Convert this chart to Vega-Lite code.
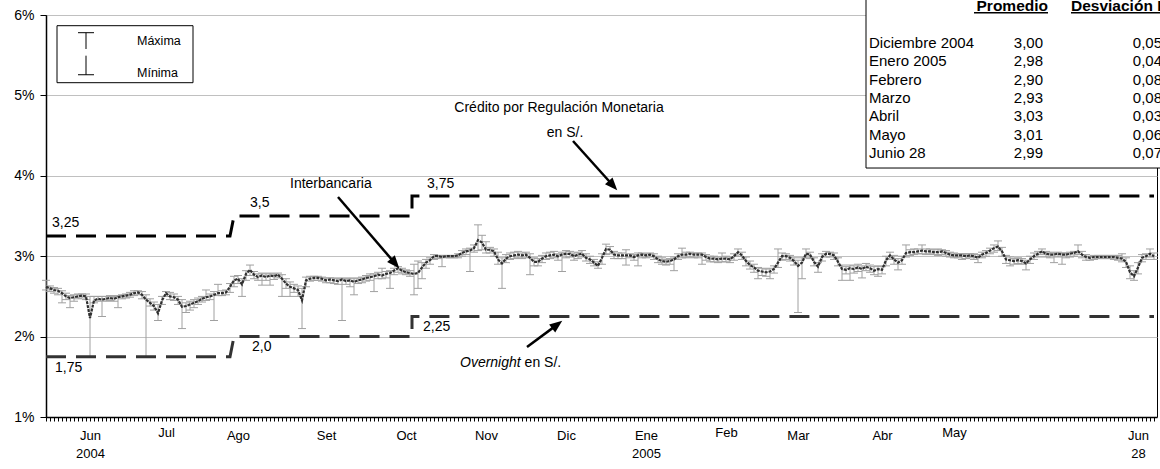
{
"$schema":"https://vega.github.io/schema/vega-lite/v6.json",
"autosize":"none","width":1111,"height":402,
"padding":{"left":46,"top":15,"right":3,"bottom":52},
"background":"white",
"config":{"font":"Liberation Sans","view":{"stroke":"#000","strokeWidth":1},"text":{"font":"Liberation Sans","color":"#000"}},
"datasets":{
"ib":[
{"i":0,"v":2.62,"h":2.70,"l":2.58},{"i":1,"v":2.60,"h":2.63,"l":2.56},{"i":2,"v":2.58,"h":2.61,"l":2.54},{"i":3,"v":2.57,"h":2.60,"l":2.52},{"i":4,"v":2.54,"h":2.57,"l":2.42},{"i":5,"v":2.50,"h":2.54,"l":2.46},{"i":6,"v":2.48,"h":2.51,"l":2.36},{"i":7,"v":2.49,"h":2.52,"l":2.44},{"i":8,"v":2.50,"h":2.53,"l":2.47},{"i":9,"v":2.51,"h":2.53,"l":2.48},
{"i":10,"v":2.50,"h":2.53,"l":2.46},{"i":11,"v":2.23,"h":2.50,"l":1.75},{"i":12,"v":2.45,"h":2.50,"l":2.42},{"i":13,"v":2.47,"h":2.50,"l":2.44},{"i":14,"v":2.46,"h":2.50,"l":2.25},{"i":15,"v":2.47,"h":2.50,"l":2.44},{"i":16,"v":2.48,"h":2.51,"l":2.45},{"i":17,"v":2.47,"h":2.50,"l":2.44},{"i":18,"v":2.49,"h":2.51,"l":2.36},{"i":19,"v":2.50,"h":2.52,"l":2.47},
{"i":20,"v":2.51,"h":2.53,"l":2.48},{"i":21,"v":2.52,"h":2.55,"l":2.49},{"i":22,"v":2.54,"h":2.57,"l":2.51},{"i":23,"v":2.55,"h":2.57,"l":2.52},{"i":24,"v":2.52,"h":2.56,"l":2.47},{"i":25,"v":2.46,"h":2.52,"l":1.75},{"i":26,"v":2.42,"h":2.47,"l":2.38},{"i":27,"v":2.38,"h":2.43,"l":2.33},{"i":28,"v":2.29,"h":2.40,"l":2.20},{"i":29,"v":2.45,"h":2.50,"l":2.40},
{"i":30,"v":2.54,"h":2.56,"l":2.50},{"i":31,"v":2.50,"h":2.55,"l":2.46},{"i":32,"v":2.49,"h":2.53,"l":2.45},{"i":33,"v":2.46,"h":2.50,"l":2.40},{"i":34,"v":2.37,"h":2.46,"l":2.10},{"i":35,"v":2.38,"h":2.42,"l":2.30},{"i":36,"v":2.40,"h":2.44,"l":2.33},{"i":37,"v":2.42,"h":2.46,"l":2.36},{"i":38,"v":2.44,"h":2.48,"l":2.40},{"i":39,"v":2.47,"h":2.50,"l":2.43},
{"i":40,"v":2.49,"h":2.58,"l":2.45},{"i":41,"v":2.50,"h":2.53,"l":2.46},{"i":42,"v":2.52,"h":2.56,"l":2.20},{"i":43,"v":2.54,"h":2.65,"l":2.51},{"i":44,"v":2.54,"h":2.57,"l":2.51},{"i":45,"v":2.55,"h":2.58,"l":2.52},{"i":46,"v":2.62,"h":2.66,"l":2.55},{"i":47,"v":2.70,"h":2.75,"l":2.62},{"i":48,"v":2.72,"h":2.76,"l":2.66},{"i":49,"v":2.65,"h":2.72,"l":2.50},
{"i":50,"v":2.78,"h":2.82,"l":2.70},{"i":51,"v":2.83,"h":2.89,"l":2.76},{"i":52,"v":2.77,"h":2.81,"l":2.72},{"i":53,"v":2.74,"h":2.78,"l":2.70},{"i":54,"v":2.76,"h":2.79,"l":2.64},{"i":55,"v":2.74,"h":2.78,"l":2.70},{"i":56,"v":2.76,"h":2.79,"l":2.64},{"i":57,"v":2.75,"h":2.78,"l":2.71},{"i":58,"v":2.77,"h":2.79,"l":2.73},{"i":59,"v":2.72,"h":2.77,"l":2.50},
{"i":60,"v":2.66,"h":2.72,"l":2.60},{"i":61,"v":2.62,"h":2.68,"l":2.50},{"i":62,"v":2.60,"h":2.65,"l":2.55},{"i":63,"v":2.58,"h":2.63,"l":2.50},{"i":64,"v":2.45,"h":2.60,"l":2.10},{"i":65,"v":2.70,"h":2.74,"l":2.62},{"i":66,"v":2.72,"h":2.75,"l":2.69},{"i":67,"v":2.73,"h":2.75,"l":2.70},{"i":68,"v":2.73,"h":2.75,"l":2.70},{"i":69,"v":2.72,"h":2.74,"l":2.69},
{"i":70,"v":2.70,"h":2.73,"l":2.67},{"i":71,"v":2.71,"h":2.73,"l":2.67},{"i":72,"v":2.70,"h":2.73,"l":2.66},{"i":73,"v":2.69,"h":2.72,"l":2.65},{"i":74,"v":2.71,"h":2.73,"l":2.20},{"i":75,"v":2.69,"h":2.72,"l":2.65},{"i":76,"v":2.70,"h":2.73,"l":2.62},{"i":77,"v":2.68,"h":2.72,"l":2.52},{"i":78,"v":2.70,"h":2.73,"l":2.66},{"i":79,"v":2.71,"h":2.74,"l":2.67},
{"i":80,"v":2.73,"h":2.76,"l":2.69},{"i":81,"v":2.74,"h":2.78,"l":2.70},{"i":82,"v":2.75,"h":2.78,"l":2.56},{"i":83,"v":2.77,"h":2.80,"l":2.72},{"i":84,"v":2.76,"h":2.85,"l":2.72},{"i":85,"v":2.78,"h":2.81,"l":2.73},{"i":86,"v":2.79,"h":2.82,"l":2.60},{"i":87,"v":2.82,"h":2.85,"l":2.77},{"i":88,"v":2.85,"h":2.87,"l":2.80},{"i":89,"v":2.82,"h":2.85,"l":2.78},
{"i":90,"v":2.80,"h":2.83,"l":2.77},{"i":91,"v":2.79,"h":2.82,"l":2.75},{"i":92,"v":2.78,"h":2.90,"l":2.52},{"i":93,"v":2.79,"h":2.94,"l":2.60},{"i":94,"v":2.86,"h":2.92,"l":2.72},{"i":95,"v":2.92,"h":2.96,"l":2.85},{"i":96,"v":2.95,"h":2.98,"l":2.90},{"i":97,"v":3.00,"h":3.02,"l":2.96},{"i":98,"v":3.00,"h":3.01,"l":2.97},{"i":99,"v":2.99,"h":3.01,"l":2.87},
{"i":100,"v":3.00,"h":3.01,"l":2.98},{"i":101,"v":3.00,"h":3.01,"l":2.98},{"i":102,"v":3.00,"h":3.01,"l":2.98},{"i":103,"v":3.01,"h":3.03,"l":2.98},{"i":104,"v":3.04,"h":3.07,"l":3.00},{"i":105,"v":3.06,"h":3.09,"l":3.02},{"i":106,"v":3.07,"h":3.10,"l":2.81},{"i":107,"v":3.10,"h":3.14,"l":3.05},{"i":108,"v":3.20,"h":3.39,"l":3.07},{"i":109,"v":3.17,"h":3.26,"l":3.08},
{"i":110,"v":3.08,"h":3.18,"l":3.04},{"i":111,"v":3.08,"h":3.11,"l":3.04},{"i":112,"v":3.06,"h":3.09,"l":3.00},{"i":113,"v":2.96,"h":3.05,"l":2.90},{"i":114,"v":2.91,"h":2.98,"l":2.60},{"i":115,"v":2.97,"h":3.02,"l":2.92},{"i":116,"v":3.00,"h":3.04,"l":2.96},{"i":117,"v":3.01,"h":3.05,"l":2.97},{"i":118,"v":3.02,"h":3.06,"l":2.98},{"i":119,"v":3.01,"h":3.04,"l":2.97},
{"i":120,"v":3.02,"h":3.05,"l":2.98},{"i":121,"v":2.98,"h":3.03,"l":2.77},{"i":122,"v":2.93,"h":2.98,"l":2.88},{"i":123,"v":2.93,"h":2.97,"l":2.88},{"i":124,"v":2.97,"h":3.01,"l":2.92},{"i":125,"v":3.00,"h":3.04,"l":2.96},{"i":126,"v":3.01,"h":3.05,"l":2.97},{"i":127,"v":3.02,"h":3.06,"l":2.98},{"i":128,"v":3.00,"h":3.03,"l":2.95},{"i":129,"v":3.02,"h":3.05,"l":2.81},
{"i":130,"v":3.03,"h":3.07,"l":2.98},{"i":131,"v":3.03,"h":3.06,"l":2.99},{"i":132,"v":3.00,"h":3.04,"l":2.95},{"i":133,"v":3.02,"h":3.05,"l":2.97},{"i":134,"v":3.03,"h":3.07,"l":2.99},{"i":135,"v":2.98,"h":3.03,"l":2.94},{"i":136,"v":2.96,"h":3.00,"l":2.91},{"i":137,"v":2.92,"h":2.96,"l":2.88},{"i":138,"v":2.88,"h":2.93,"l":2.85},{"i":139,"v":2.98,"h":3.03,"l":2.90},
{"i":140,"v":3.09,"h":3.15,"l":3.02},{"i":141,"v":3.08,"h":3.12,"l":3.03},{"i":142,"v":3.02,"h":3.06,"l":2.97},{"i":143,"v":3.01,"h":3.04,"l":2.97},{"i":144,"v":3.01,"h":3.04,"l":2.97},{"i":145,"v":3.01,"h":3.08,"l":2.89},{"i":146,"v":3.01,"h":3.03,"l":2.98},{"i":147,"v":2.99,"h":3.02,"l":2.95},{"i":148,"v":3.01,"h":3.04,"l":2.88},{"i":149,"v":3.02,"h":3.04,"l":2.98},
{"i":150,"v":3.01,"h":3.03,"l":2.98},{"i":151,"v":3.02,"h":3.04,"l":2.99},{"i":152,"v":3.00,"h":3.03,"l":2.96},{"i":153,"v":2.96,"h":3.00,"l":2.92},{"i":154,"v":2.94,"h":2.98,"l":2.90},{"i":155,"v":2.93,"h":2.96,"l":2.89},{"i":156,"v":2.94,"h":2.97,"l":2.90},{"i":157,"v":2.96,"h":2.99,"l":2.82},{"i":158,"v":3.00,"h":3.03,"l":2.96},{"i":159,"v":3.02,"h":3.10,"l":2.98},
{"i":160,"v":3.02,"h":3.05,"l":2.98},{"i":161,"v":3.03,"h":3.05,"l":2.99},{"i":162,"v":3.02,"h":3.04,"l":2.98},{"i":163,"v":3.02,"h":3.04,"l":2.98},{"i":164,"v":3.02,"h":3.04,"l":2.90},{"i":165,"v":2.99,"h":3.02,"l":2.95},{"i":166,"v":2.97,"h":3.00,"l":2.93},{"i":167,"v":2.97,"h":3.00,"l":2.93},{"i":168,"v":2.96,"h":2.99,"l":2.92},{"i":169,"v":2.97,"h":3.04,"l":2.93},
{"i":170,"v":2.97,"h":3.00,"l":2.93},{"i":171,"v":2.96,"h":2.99,"l":2.92},{"i":172,"v":3.00,"h":3.03,"l":2.95},{"i":173,"v":3.05,"h":3.09,"l":3.00},{"i":174,"v":3.01,"h":3.05,"l":2.96},{"i":175,"v":2.94,"h":2.99,"l":2.88},{"i":176,"v":2.89,"h":2.94,"l":2.84},{"i":177,"v":2.86,"h":2.90,"l":2.80},{"i":178,"v":2.82,"h":2.86,"l":2.72},{"i":179,"v":2.81,"h":2.85,"l":2.76},
{"i":180,"v":2.80,"h":2.84,"l":2.75},{"i":181,"v":2.81,"h":2.85,"l":2.72},{"i":182,"v":2.84,"h":2.88,"l":2.79},{"i":183,"v":2.92,"h":3.09,"l":2.86},{"i":184,"v":3.00,"h":3.04,"l":2.95},{"i":185,"v":3.00,"h":3.03,"l":2.96},{"i":186,"v":2.98,"h":3.01,"l":2.94},{"i":187,"v":2.94,"h":2.98,"l":2.89},{"i":188,"v":2.88,"h":2.95,"l":2.30},{"i":189,"v":2.92,"h":2.98,"l":2.72},
{"i":190,"v":3.03,"h":3.09,"l":2.98},{"i":191,"v":3.02,"h":3.05,"l":2.97},{"i":192,"v":2.93,"h":2.98,"l":2.88},{"i":193,"v":2.87,"h":2.92,"l":2.80},{"i":194,"v":2.99,"h":3.03,"l":2.94},{"i":195,"v":3.03,"h":3.06,"l":2.99},{"i":196,"v":3.03,"h":3.05,"l":2.99},{"i":197,"v":3.01,"h":3.04,"l":2.96},{"i":198,"v":2.93,"h":2.98,"l":2.88},{"i":199,"v":2.84,"h":2.89,"l":2.70},
{"i":200,"v":2.83,"h":2.87,"l":2.78},{"i":201,"v":2.85,"h":2.89,"l":2.70},{"i":202,"v":2.84,"h":2.88,"l":2.79},{"i":203,"v":2.86,"h":2.90,"l":2.81},{"i":204,"v":2.84,"h":2.88,"l":2.73},{"i":205,"v":2.87,"h":2.91,"l":2.82},{"i":206,"v":2.85,"h":2.89,"l":2.80},{"i":207,"v":2.82,"h":2.87,"l":2.77},{"i":208,"v":2.84,"h":2.88,"l":2.75},{"i":209,"v":2.83,"h":2.87,"l":2.78},
{"i":210,"v":2.95,"h":3.00,"l":2.88},{"i":211,"v":3.01,"h":3.05,"l":2.96},{"i":212,"v":2.96,"h":3.01,"l":2.90},{"i":213,"v":2.92,"h":2.97,"l":2.83},{"i":214,"v":2.95,"h":3.00,"l":2.90},{"i":215,"v":3.04,"h":3.14,"l":2.99},{"i":216,"v":3.05,"h":3.08,"l":3.01},{"i":217,"v":3.05,"h":3.09,"l":3.02},{"i":218,"v":3.06,"h":3.09,"l":3.03},{"i":219,"v":3.07,"h":3.14,"l":3.03},
{"i":220,"v":3.06,"h":3.09,"l":3.02},{"i":221,"v":3.06,"h":3.09,"l":3.03},{"i":222,"v":3.05,"h":3.08,"l":3.02},{"i":223,"v":3.05,"h":3.09,"l":3.01},{"i":224,"v":3.06,"h":3.08,"l":3.02},{"i":225,"v":3.04,"h":3.07,"l":3.00},{"i":226,"v":3.02,"h":3.05,"l":2.99},{"i":227,"v":3.01,"h":3.04,"l":2.98},{"i":228,"v":3.01,"h":3.03,"l":2.98},{"i":229,"v":3.01,"h":3.03,"l":2.96},
{"i":230,"v":3.00,"h":3.03,"l":2.97},{"i":231,"v":3.01,"h":3.03,"l":2.98},{"i":232,"v":3.00,"h":3.03,"l":2.96},{"i":233,"v":2.98,"h":3.02,"l":2.92},{"i":234,"v":3.02,"h":3.05,"l":2.98},{"i":235,"v":3.04,"h":3.07,"l":3.00},{"i":236,"v":3.07,"h":3.10,"l":3.03},{"i":237,"v":3.10,"h":3.14,"l":3.05},{"i":238,"v":3.12,"h":3.19,"l":3.07},{"i":239,"v":3.06,"h":3.11,"l":3.00},
{"i":240,"v":2.96,"h":3.01,"l":2.91},{"i":241,"v":2.95,"h":2.99,"l":2.88},{"i":242,"v":2.94,"h":2.97,"l":2.90},{"i":243,"v":2.95,"h":2.98,"l":2.91},{"i":244,"v":2.94,"h":2.97,"l":2.90},{"i":245,"v":2.91,"h":2.95,"l":2.83},{"i":246,"v":2.96,"h":3.00,"l":2.91},{"i":247,"v":3.00,"h":3.04,"l":2.96},{"i":248,"v":3.03,"h":3.06,"l":2.99},{"i":249,"v":3.06,"h":3.09,"l":3.02},
{"i":250,"v":3.03,"h":3.06,"l":2.99},{"i":251,"v":3.02,"h":3.05,"l":2.98},{"i":252,"v":3.02,"h":3.04,"l":2.92},{"i":253,"v":3.03,"h":3.05,"l":2.99},{"i":254,"v":3.02,"h":3.04,"l":2.90},{"i":255,"v":3.02,"h":3.04,"l":2.98},{"i":256,"v":3.03,"h":3.05,"l":2.99},{"i":257,"v":3.04,"h":3.06,"l":3.00},{"i":258,"v":3.06,"h":3.14,"l":3.02},{"i":259,"v":3.02,"h":3.06,"l":2.98},
{"i":260,"v":2.99,"h":3.02,"l":2.95},{"i":261,"v":2.98,"h":3.00,"l":2.95},{"i":262,"v":2.99,"h":3.01,"l":2.96},{"i":263,"v":2.99,"h":3.01,"l":2.97},{"i":264,"v":2.99,"h":3.01,"l":2.97},{"i":265,"v":2.99,"h":3.01,"l":2.97},{"i":266,"v":2.99,"h":3.01,"l":2.97},{"i":267,"v":2.99,"h":3.01,"l":2.96},{"i":268,"v":2.98,"h":3.01,"l":2.95},{"i":269,"v":2.97,"h":3.03,"l":2.93},
{"i":270,"v":2.93,"h":2.98,"l":2.86},{"i":271,"v":2.80,"h":2.88,"l":2.72},{"i":272,"v":2.75,"h":2.82,"l":2.70},{"i":273,"v":2.86,"h":2.92,"l":2.78},{"i":274,"v":2.98,"h":3.02,"l":2.93},{"i":275,"v":3.00,"h":3.03,"l":2.96},{"i":276,"v":3.03,"h":3.09,"l":2.99},{"i":277,"v":3.00,"h":3.04,"l":2.96}
],
"tasas":[
{"i":0,"cr":3.25,"on":1.75,"k":1},{"i":46,"cr":3.25,"on":1.75,"k":2},{"i":47,"cr":3.5,"on":2.0,"k":3},{"i":91.5,"cr":3.5,"on":2.0,"k":4},{"i":91.5,"cr":3.75,"on":2.25,"k":5},{"i":277,"cr":3.75,"on":2.25,"k":6}
],
"tabla":[
{"f":1,"mes":"Diciembre 2004","prom":"3,00","desv":"0,05"},
{"f":2,"mes":"Enero 2005","prom":"2,98","desv":"0,04"},
{"f":3,"mes":"Febrero","prom":"2,90","desv":"0,08"},
{"f":4,"mes":"Marzo","prom":"2,93","desv":"0,08"},
{"f":5,"mes":"Abril","prom":"3,03","desv":"0,03"},
{"f":6,"mes":"Mayo","prom":"3,01","desv":"0,06"},
{"f":7,"mes":"Junio 28","prom":"2,99","desv":"0,07"}
]
},
"layer":[
{"layer":[
{"data":{"name":"ib"},"mark":{"type":"rule","color":"#a0a0a0","strokeWidth":1},
 "encoding":{
  "x":{"field":"i","type":"quantitative","scale":{"domain":[0,277.75],"nice":false,"zero":false},
   "axis":{"title":null,"grid":false,"tickCount":400,"values":[0,1,2,3,4,5,6,7,8,9,10,11,12,13,14,15,16,17,18,19,20,21,22,23,24,25,26,27,28,29,30,31,32,33,34,35,36,37,38,39,40,41,42,43,44,45,46,47,48,49,50,51,52,53,54,55,56,57,58,59,60,61,62,63,64,65,66,67,68,69,70,71,72,73,74,75,76,77,78,79,80,81,82,83,84,85,86,87,88,89,90,91,92,93,94,95,96,97,98,99,100,101,102,103,104,105,106,107,108,109,110,111,112,113,114,115,116,117,118,119,120,121,122,123,124,125,126,127,128,129,130,131,132,133,134,135,136,137,138,139,140,141,142,143,144,145,146,147,148,149,150,151,152,153,154,155,156,157,158,159,160,161,162,163,164,165,166,167,168,169,170,171,172,173,174,175,176,177,178,179,180,181,182,183,184,185,186,187,188,189,190,191,192,193,194,195,196,197,198,199,200,201,202,203,204,205,206,207,208,209,210,211,212,213,214,215,216,217,218,219,220,221,222,223,224,225,226,227,228,229,230,231,232,233,234,235,236,237,238,239,240,241,242,243,244,245,246,247,248,249,250,251,252,253,254,255,256,257,258,259,260,261,262,263,264,265,266,267,268,269,270,271,272,273,274,275,276,277],
   "labelExpr":"datum.value==11?['Jun','2004']:datum.value==30?'Jul':datum.value==48?'Ago':datum.value==70?'Set':datum.value==90?'Oct':datum.value==110?'Nov':datum.value==130?'Dic':datum.value==150?['Ene','2005']:datum.value==170?'Feb':datum.value==188?'Mar':datum.value==209?'Abr':datum.value==227?'May':datum.value==273?['Jun','28']:''",
   "tickSize":4,"tickColor":"#000","tickWidth":1,"domainColor":"#000","domainWidth":1.5,
   "labelFont":"Liberation Sans","labelFontSize":13,"labelColor":"#000",
   "labelPadding":{"condition":{"test":"datum.value==30||datum.value==170||datum.value==227","value":5},"value":8},
   "labelLineHeight":18,
   "labelOverlap":false,"labelFlush":false,"labelBound":false}},
  "y":{"field":"l","type":"quantitative","scale":{"domain":[1,6],"nice":false,"zero":false},
   "axis":{"title":null,"values":[1,2,3,4,5,6],"labelExpr":"datum.value + '%'","grid":true,"gridColor":"#c0c0c0","gridWidth":1,
   "tickSize":6,"tickColor":"#000","domainColor":"#000","domainWidth":1.5,"labelFont":"Liberation Sans","labelFontSize":14,"labelColor":"#000","labelPadding":6,"labelFlush":false}},
  "y2":{"field":"h"}}},
{"data":{"name":"ib"},"mark":{"type":"tick","orient":"horizontal","color":"#a0a0a0","size":8,"thickness":1,"opacity":1},
 "encoding":{"x":{"field":"i","type":"quantitative"},"y":{"field":"h","type":"quantitative"}}},
{"data":{"name":"ib"},"mark":{"type":"tick","orient":"horizontal","color":"#a0a0a0","size":8,"thickness":1,"opacity":1},
 "encoding":{"x":{"field":"i","type":"quantitative"},"y":{"field":"l","type":"quantitative"}}},
{"data":{"name":"tasas"},"mark":{"type":"line","color":"#000","strokeWidth":3,"strokeDash":[20,10]},
 "encoding":{"x":{"field":"i","type":"quantitative"},"y":{"field":"cr","type":"quantitative"},"order":{"field":"k"}}},
{"data":{"name":"tasas"},"mark":{"type":"line","color":"#333","strokeWidth":3,"strokeDash":[20,10]},
 "encoding":{"x":{"field":"i","type":"quantitative"},"y":{"field":"on","type":"quantitative"},"order":{"field":"k"}}},
{"data":{"name":"ib"},"mark":{"type":"line","color":"#303030","strokeWidth":2.2,"strokeDash":[3,1]},
 "encoding":{"x":{"field":"i","type":"quantitative"},"y":{"field":"v","type":"quantitative"}}},
{"data":{"values":[{}]},"mark":{"type":"rect","fill":"#fff","stroke":"#000","strokeWidth":1},
 "encoding":{"x":{"datum":2.75},"x2":{"datum":36.75},"y":{"datum":5.867},"y2":{"datum":5.158}}},
{"data":{"values":[{}]},"mark":{"type":"rule","color":"#000","strokeWidth":1},
 "encoding":{"x":{"datum":10},"y":{"datum":5.78},"y2":{"datum":5.577}}},
{"data":{"values":[{}]},"mark":{"type":"rule","color":"#000","strokeWidth":1},
 "encoding":{"x":{"datum":10},"y":{"datum":5.494},"y2":{"datum":5.257}}},
{"data":{"values":[{}]},"mark":{"type":"tick","orient":"horizontal","color":"#000","size":16,"thickness":1,"opacity":1},
 "encoding":{"x":{"datum":10},"y":{"datum":5.78}}},
{"data":{"values":[{}]},"mark":{"type":"tick","orient":"horizontal","color":"#000","size":16,"thickness":1,"opacity":1},
 "encoding":{"x":{"datum":10},"y":{"datum":5.257}}},
{"data":{"values":[{}]},"mark":{"type":"text","text":"Máxima","align":"left","baseline":"middle","fontSize":12.5},
 "encoding":{"x":{"datum":22.75},"y":{"datum":5.68}}},
{"data":{"values":[{}]},"mark":{"type":"text","text":"Mínima","align":"left","baseline":"middle","fontSize":12.5},
 "encoding":{"x":{"datum":22.75},"y":{"datum":5.282}}},
{"data":{"values":[{}]},"mark":{"type":"text","text":"3,25","align":"left","baseline":"middle","fontSize":14},
 "encoding":{"x":{"datum":1.5},"y":{"datum":3.413}}},
{"data":{"values":[{}]},"mark":{"type":"text","text":"3,5","align":"left","baseline":"middle","fontSize":14},
 "encoding":{"x":{"datum":51},"y":{"datum":3.662}}},
{"data":{"values":[{}]},"mark":{"type":"text","text":"3,75","align":"left","baseline":"middle","fontSize":14},
 "encoding":{"x":{"datum":95.25},"y":{"datum":3.898}}},
{"data":{"values":[{}]},"mark":{"type":"text","text":"1,75","align":"left","baseline":"middle","fontSize":14},
 "encoding":{"x":{"datum":2.25},"y":{"datum":1.613}}},
{"data":{"values":[{}]},"mark":{"type":"text","text":"2,0","align":"left","baseline":"middle","fontSize":14},
 "encoding":{"x":{"datum":51.5},"y":{"datum":1.871}}},
{"data":{"values":[{}]},"mark":{"type":"text","text":"2,25","align":"left","baseline":"middle","fontSize":14},
 "encoding":{"x":{"datum":94.25},"y":{"datum":2.123}}},
{"data":{"values":[{}]},"mark":{"type":"text","text":"Interbancaria","align":"left","baseline":"middle","fontSize":14},
 "encoding":{"x":{"datum":61},"y":{"datum":3.898}}},
{"data":{"values":[{}]},"mark":{"type":"text","text":"Crédito por Regulación Monetaria","align":"center","baseline":"middle","fontSize":14},
 "encoding":{"x":{"datum":128.25},"y":{"datum":4.843}}},
{"data":{"values":[{}]},"mark":{"type":"text","text":"en S/.","align":"center","baseline":"middle","fontSize":14},
 "encoding":{"x":{"datum":129.75},"y":{"datum":4.532}}},
{"data":{"values":[{}]},"mark":{"type":"text","text":"Overnight","align":"left","baseline":"middle","fontSize":14,"fontStyle":"italic"},
 "encoding":{"x":{"datum":103.5},"y":{"datum":1.672}}},
{"data":{"values":[{}]},"mark":{"type":"text","text":"en S/.","align":"left","baseline":"middle","fontSize":14},
 "encoding":{"x":{"datum":119.65},"y":{"datum":1.672}}},
{"data":{"values":[{}]},"mark":{"type":"rule","color":"#000","strokeWidth":2.5},
 "encoding":{"x":{"datum":73},"y":{"datum":3.736},"x2":{"datum":87.28},"y2":{"datum":2.91}}},
{"data":{"values":[{}]},"mark":{"type":"rule","color":"#000","strokeWidth":2.5},
 "encoding":{"x":{"datum":131.75},"y":{"datum":4.433},"x2":{"datum":141.75},"y2":{"datum":3.879}}},
{"data":{"values":[{}]},"mark":{"type":"rule","color":"#000","strokeWidth":2.5},
 "encoding":{"x":{"datum":120.25},"y":{"datum":1.871},"x2":{"datum":127.8},"y2":{"datum":2.149}}},
{"data":{"values":[{}]},"mark":{"type":"point","shape":"M0,-1L0.8,1L-0.8,1Z","filled":true,"color":"#000","size":160,"opacity":1,"angle":139},
 "encoding":{"x":{"datum":87.28},"y":{"datum":2.91}}},
{"data":{"values":[{}]},"mark":{"type":"point","shape":"M0,-1L0.8,1L-0.8,1Z","filled":true,"color":"#000","size":160,"opacity":1,"angle":138},
 "encoding":{"x":{"datum":141.75},"y":{"datum":3.879}}},
{"data":{"values":[{}]},"mark":{"type":"point","shape":"M0,-1L0.8,1L-0.8,1Z","filled":true,"color":"#000","size":160,"opacity":1,"angle":53},
 "encoding":{"x":{"datum":127.8},"y":{"datum":2.149}}}
]},
{"data":{"name":"tabla"},"layer":[
{"data":{"values":[{}]},"mark":{"type":"rect","fill":"#fff","stroke":"#000","strokeWidth":1},
 "encoding":{"x":{"datum":205},"x2":{"datum":300},
  "y":{"datum":7.82,"axis":null,"scale":{"domain":[-0.527,21.4],"reverse":true,"nice":false,"zero":false}},"y2":{"datum":-3}}},
{"mark":{"type":"text","align":"left","baseline":"middle","fontSize":15},
 "encoding":{"x":{"datum":205.75},"y":{"field":"f","type":"quantitative","axis":null,"scale":{"domain":[-0.527,21.4],"reverse":true,"nice":false,"zero":false}},"text":{"field":"mes"}}},
{"mark":{"type":"text","align":"right","baseline":"middle","fontSize":15},
 "encoding":{"x":{"datum":249.25},"y":{"field":"f","type":"quantitative","axis":null},"text":{"field":"prom"}}},
{"mark":{"type":"text","align":"right","baseline":"middle","fontSize":15},
 "encoding":{"x":{"datum":279},"y":{"field":"f","type":"quantitative","axis":null},"text":{"field":"desv"}}},
{"data":{"values":[{}]},"mark":{"type":"text","text":"Promedio","align":"right","baseline":"middle","fontSize":15.5,"fontWeight":"bold"},
 "encoding":{"x":{"datum":250.5},"y":{"datum":-1,"axis":null}}},
{"data":{"values":[{}]},"mark":{"type":"text","text":"Desviación Estándar","align":"left","baseline":"middle","fontSize":15.5,"fontWeight":"bold"},
 "encoding":{"x":{"datum":256.25},"y":{"datum":-1,"axis":null}}},
{"data":{"values":[{}]},"mark":{"type":"rule","color":"#000","strokeWidth":1.3},
 "encoding":{"x":{"datum":232},"x2":{"datum":250.5},"y":{"datum":-0.65,"axis":null}}},
{"data":{"values":[{}]},"mark":{"type":"rule","color":"#000","strokeWidth":1.3},
 "encoding":{"x":{"datum":256.25},"x2":{"datum":300},"y":{"datum":-0.65,"axis":null}}}
]}
],
"resolve":{"scale":{"y":"independent"},"axis":{"y":"independent"}}
}
